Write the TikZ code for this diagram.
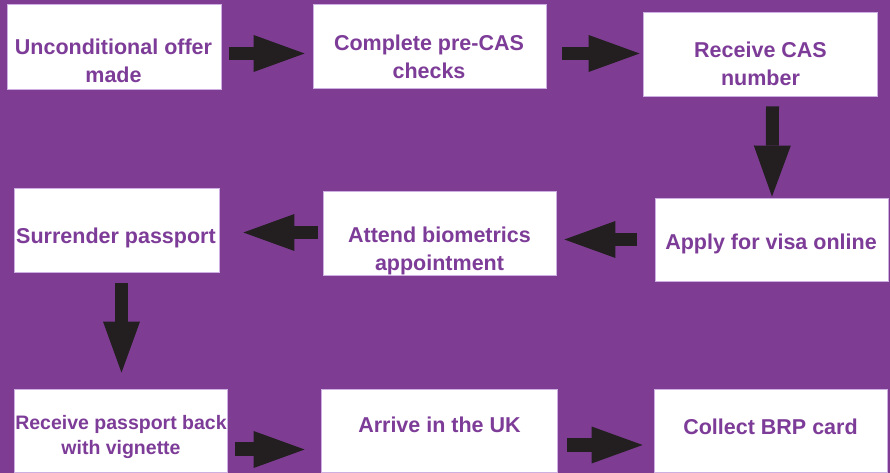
\documentclass[tikz,border=0pt]{standalone}
\usepackage{fontspec}
\setmainfont{Liberation Sans}
\usetikzlibrary{arrows.meta,positioning}
\definecolor{bgpurple}{RGB}{126,61,147}
\definecolor{textpurple}{RGB}{125,60,152}
\definecolor{boxline}{RGB}{205,175,225}
\definecolor{arrowblack}{RGB}{35,31,32}

\begin{document}
\begin{tikzpicture}[x=1pt,y=1pt]
  \tikzstyle{box}=[draw=boxline,fill=white,line width=0.8pt,inner sep=0pt]
  \tikzstyle{boxtext}=[text=textpurple,font=\bfseries\fontsize{21.5}{28}\selectfont,align=center,anchor=base,inner sep=0pt]
  \tikzstyle{blockarrow}=[draw=arrowblack,line width=13pt,-{Triangle[length=51pt,width=37pt,line width=0pt]}]
  \fill[bgpurple] (0,0) rectangle (890,473);
  \useasboundingbox (0,0) rectangle (890,473);
  % boxes
  \foreach \name/\x/\y/\w/\h in {b1/114/426.5/214/85, b2/429.5/427/233/84, b3/760/419/234/84,
      b4/771.5/233.5/233/83, b5/439.5/240/233/84, b6/116.5/243/205/84,
      b7/120.5/42.5/213/83, b8/439/42.5/236/83, b9/770.5/42.5/233/83}
    \node[box,minimum width=\w pt,minimum height=\h pt] (\name) at (\x,\y) {};
  % texts (base = last line)
  \foreach \name/\x/\y/\txt in {t1/113.5/390/{Unconditional offer\\made},
      t2/429/394/{Complete pre-CAS\\checks}, t3/760.5/387/{Receive CAS\\number},
      t4/771/223/{Apply for visa online}, t5/439.5/202/{Attend biometrics\\appointment},
      t6/116/229/{Surrender passport}, t8/439.5/40/{Arrive in the UK},
      t9/770.5/38/{Collect BRP card}}
    \node[boxtext] (\name) at (\x,\y) {\txt};
  \node[boxtext,font=\bfseries\fontsize{19.5}{25}\selectfont] (t7) at (121,18) {Receive passport back\\with vignette};
  % arrows
  \draw[blockarrow] ([shift={(8,-7)}]b1.east) -- ([shift={(-8,-7.5)}]b2.west);
  \draw[blockarrow] ([shift={(16,-7.5)}]b2.east) -- ([shift={(-3,0.5)}]b3.west);
  \draw[blockarrow] ([shift={(12.5,-10)}]b3.south) -- ([shift={(0.5,1)}]b4.north);
  \draw[blockarrow] ([shift={(-18,0)}]b4.west) -- ([shift={(8,-6.5)}]b5.east);
  \draw[blockarrow] ([shift={(-5,0.5)}]b5.west) -- ([shift={(24,-2.5)}]b6.east);
  \draw[blockarrow] ([shift={(5,-11)}]b6.south) -- ([shift={(1,16)}]b7.north);
  \draw[blockarrow,line width=14pt] ([shift={(8,-19)}]b7.east) -- ([shift={(-16,-19)}]b8.west);
  \draw[blockarrow,line width=14pt] ([shift={(10,-14.5)}]b8.east) -- ([shift={(-11,-14.5)}]b9.west);
\end{tikzpicture}
\end{document}
